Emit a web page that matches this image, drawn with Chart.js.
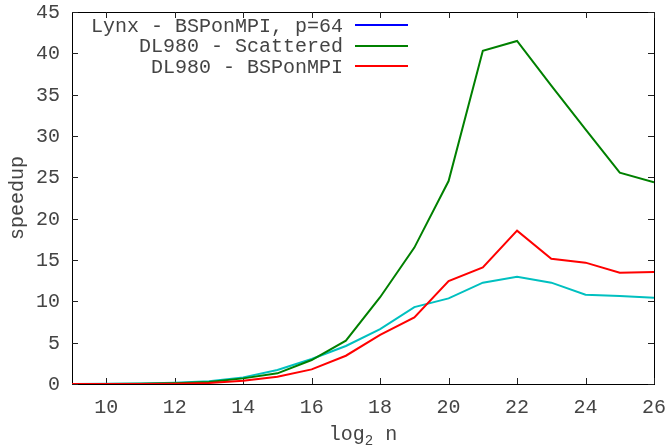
<!DOCTYPE html>
<html>
<head>
<meta charset="utf-8">
<script src="https://cdn.jsdelivr.net/npm/chart.js@4.4.1/dist/chart.umd.min.js"></script>
<style>
  html, body { margin: 0; padding: 0; background: #ffffff; }
  canvas { display: block; }
</style>
</head>
<body>
<canvas id="speedupChart" width="667" height="446"></canvas>
<script>
// Problem size (log2 of n) and measured speedups
const log2n = [9, 10, 11, 12, 13, 14, 15, 16, 17, 18, 19, 20, 21, 22, 23, 24, 25, 26];
const lynxSpeedup      = [0, 0.02, 0.05, 0.15, 0.32, 0.8, 1.69, 3.02, 4.6, 6.65, 9.3, 10.36, 12.26, 12.98, 12.26, 10.8, 10.64, 10.44];
const scatteredSpeedup = [0, 0.01, 0.03, 0.1, 0.25, 0.68, 1.29, 2.9, 5.24, 10.5, 16.5, 24.55, 40.3, 41.5, 36.1, 30.8, 25.56, 24.4];
const bspSpeedup       = [0, 0, 0.01, 0.04, 0.12, 0.4, 0.89, 1.77, 3.42, 5.93, 8.05, 12.46, 14.1, 18.55, 15.16, 14.68, 13.47, 13.55];

const xTickValues = [10, 12, 14, 16, 18, 20, 22, 24, 26];
const yTickValues = [0, 5, 10, 15, 20, 25, 30, 35, 40, 45];

const seriesLabels = ['Lynx - BSPonMPI, p=64', 'DL980 - Scattered', 'DL980 - BSPonMPI'];
const lineColors = ['rgb(0,192,192)', 'rgb(0,128,0)', 'rgb(255,0,0)'];
const keyColors  = ['rgb(0,0,255)', 'rgb(0,128,0)', 'rgb(255,0,0)'];

const xTitleParts = ['log', '2', ' n'];
const yTitle = 'speedup';

const FONT = "'Liberation Mono', 'DejaVu Sans Mono', monospace";
const TEXT_COLOR = '#444444';

function pairs(ys) {
  return log2n.map((x, i) => ({ x: x, y: ys[i] }));
}

// Frame and mirrored inward tick marks, drawn under the data lines
const frameUnderLines = {
  id: 'frameUnderLines',
  beforeDatasetsDraw(chart) {
    const ctx = chart.ctx;
    const xs = chart.scales.x;
    const ys = chart.scales.y;
    const tickLen = 6;
    const L = Math.round(xs.getPixelForValue(xs.min));
    const R = Math.round(xs.getPixelForValue(xs.max));
    const T = Math.round(ys.getPixelForValue(ys.max));
    const B = Math.round(ys.getPixelForValue(ys.min));
    ctx.save();
    ctx.fillStyle = '#000000';
    ctx.fillRect(L, T, R - L + 1, 1);
    ctx.fillRect(L, B, R - L + 1, 1);
    ctx.fillRect(L, T, 1, B - T + 1);
    ctx.fillRect(R, T, 1, B - T + 1);
    ctx.fillStyle = '#222222';
    xTickValues.forEach(v => {
      const px = Math.round(xs.getPixelForValue(v));
      ctx.fillRect(px, B - tickLen, 1, tickLen);
      ctx.fillRect(px, T, 1, tickLen);
    });
    yTickValues.forEach(v => {
      const py = Math.round(ys.getPixelForValue(v));
      ctx.fillRect(L, py, tickLen, 1);
      ctx.fillRect(R - tickLen, py, tickLen, 1);
    });
    ctx.restore();
  }
};

// Tick labels, axis titles and the key
const gnuplotText = {
  id: 'gnuplotText',
  afterDraw(chart) {
    const ctx = chart.ctx;
    const a = chart.chartArea;
    const xs = chart.scales.x;
    const ys = chart.scales.y;
    ctx.save();
    const bigFont = '20px ' + FONT;
    const smallFont = '14px ' + FONT;
    ctx.fillStyle = TEXT_COLOR;
    ctx.font = bigFont;
    ctx.textBaseline = 'alphabetic';

    // tick labels
    ctx.textAlign = 'center';
    xTickValues.forEach(v => {
      ctx.fillText(String(v), xs.getPixelForValue(v), 413);
    });
    ctx.textAlign = 'right';
    yTickValues.forEach(v => {
      ctx.fillText(String(v), 60, ys.getPixelForValue(v) + 6);
    });

    // x title with subscript
    ctx.textAlign = 'left';
    ctx.font = bigFont;
    const w0 = ctx.measureText(xTitleParts[0]).width;
    const w2 = ctx.measureText(xTitleParts[2]).width;
    ctx.font = smallFont;
    const w1 = ctx.measureText(xTitleParts[1]).width;
    let tx = (a.left + a.right) / 2 - (w0 + w1 + w2) / 2;
    const baseY = 440;
    ctx.font = bigFont;
    ctx.fillText(xTitleParts[0], tx, baseY);
    tx += w0;
    ctx.font = smallFont;
    ctx.fillText(xTitleParts[1], tx, baseY + 5);
    tx += w1;
    ctx.font = bigFont;
    ctx.fillText(xTitleParts[2], tx, baseY);

    // y title
    ctx.save();
    ctx.translate(18, (a.top + a.bottom) / 2);
    ctx.rotate(-Math.PI / 2);
    ctx.textAlign = 'center';
    ctx.textBaseline = 'middle';
    ctx.font = bigFont;
    ctx.fillText(yTitle, 0, 0);
    ctx.restore();

    // key: right-aligned labels followed by line samples
    ctx.font = bigFont;
    ctx.textAlign = 'right';
    ctx.textBaseline = 'alphabetic';
    const rowY = [25, 45.5, 66];
    chart.data.datasets.forEach((ds, i) => {
      const y = rowY[i];
      ctx.fillStyle = TEXT_COLOR;
      ctx.fillText(ds.label, 343, y + 6.5);
      ctx.fillStyle = ds.keyColor;
      ctx.fillRect(355, Math.round(y) - 1, 53, 2);
    });

    ctx.restore();
  }
};

const seriesData = [lynxSpeedup, scatteredSpeedup, bspSpeedup];

new Chart(document.getElementById('speedupChart'), {
  type: 'line',
  data: {
    datasets: seriesData.map((ys, i) => ({
      label: seriesLabels[i],
      data: pairs(ys),
      borderColor: lineColors[i],
      keyColor: keyColors[i],
      borderWidth: 2,
      pointRadius: 0,
      tension: 0,
      fill: false,
      order: 3 - i
    }))
  },
  options: {
    responsive: false,
    animation: false,
    devicePixelRatio: 1,
    layout: { padding: { top: 12, right: 13, left: 0, bottom: 0 } },
    plugins: {
      legend: { display: false },
      tooltip: { enabled: false }
    },
    scales: {
      x: {
        type: 'linear',
        min: 9,
        max: 26,
        afterBuildTicks: s => { s.ticks = xTickValues.map(v => ({ value: v })); },
        afterFit: s => { s.height = 62; },
        grid: { display: false, drawTicks: false },
        border: { display: false },
        ticks: { display: false }
      },
      y: {
        type: 'linear',
        min: 0,
        max: 45,
        afterBuildTicks: s => { s.ticks = yTickValues.map(v => ({ value: v })); },
        afterFit: s => { s.width = 72; },
        grid: { display: false, drawTicks: false },
        border: { display: false },
        ticks: { display: false }
      }
    }
  },
  plugins: [frameUnderLines, gnuplotText]
});
</script>
</body>
</html>
